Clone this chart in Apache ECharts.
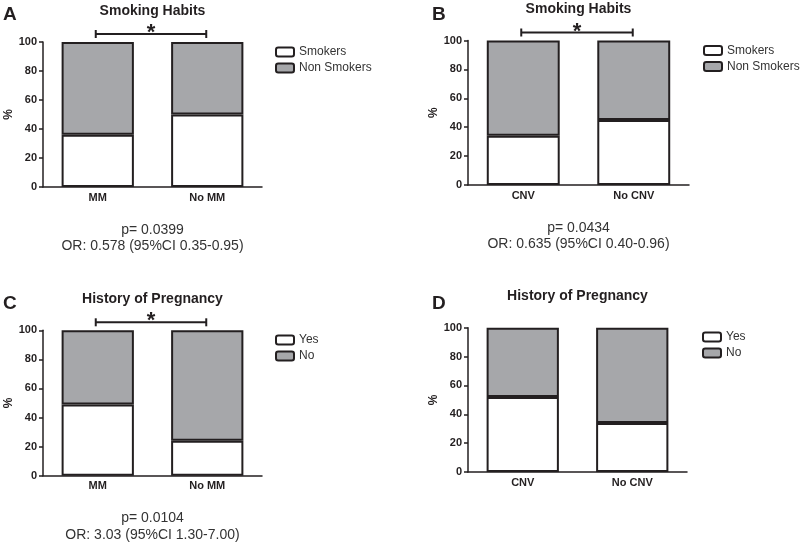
<!DOCTYPE html>
<html>
<head>
<meta charset="utf-8">
<script src="https://cdn.jsdelivr.net/npm/echarts@6/dist/echarts.min.js"></script>
<style>html,body{margin:0;padding:0;background:#fff}#c{width:800px;height:546px}</style>
</head>
<body>
<div id="c"></div>
<script>
// ---- data ----
const catsMM = ['MM', 'No MM'];
const catsCNV = ['CNV', 'No CNV'];
const yTicks = [0, 20, 40, 60, 80, 100];

const smokersMM = [36, 50];
const nonSmokersMM = [64, 50];
const smokersCNV = [34, 45];
const nonSmokersCNV = [66, 55];
const pregYesMM = [49, 24];
const pregNoMM = [51, 76];
const pregYesCNV = [52, 34];
const pregNoCNV = [48, 66];

const panelLetters = ['A', 'B', 'C', 'D'];
const panelTitles = ['Smoking Habits', 'Smoking Habits', 'History of Pregnancy', 'History of Pregnancy'];
const statTexts = [
  'p= 0.0399\nOR: 0.578 (95%CI 0.35-0.95)',
  'p= 0.0434\nOR: 0.635 (95%CI 0.40-0.96)',
  'p= 0.0104\nOR: 3.03 (95%CI 1.30-7.00)',
  ''
];
const significant = [true, true, true, false];

// ---- layout ----
const FONT = 'Liberation Sans, Arial, sans-serif';
const DARK = '#231f20';
const GRAY = '#a6a7aa';
const grids = [
  {left: 43, top: 42, width: 219, height: 145},
  {left: 468, top: 40.5, width: 221, height: 144.5},
  {left: 43, top: 330.3, width: 219, height: 145.4},
  {left: 468, top: 327.7, width: 219, height: 144.3}
];
const legendPos = [
  {left: 275, top: 44},
  {left: 703, top: 42.5},
  {left: 275, top: 332},
  {left: 702, top: 329}
];
const titleTops = [4, 2, 292, 289];
const letterPos = [{left: 3, top: 5}, {left: 432, top: 5}, {left: 3, top: 294}, {left: 432, top: 294}];

const panelCats = [catsMM, catsCNV, catsMM, catsCNV];
const panelSeries = [
  [['Smokers', smokersMM], ['Non Smokers', nonSmokersMM]],
  [['Smokers', smokersCNV], ['Non Smokers', nonSmokersCNV]],
  [['Yes', pregYesMM], ['No', pregNoMM]],
  [['Yes', pregYesCNV], ['No', pregNoCNV]]
];

const chart = echarts.init(document.getElementById('c'), null, {renderer: 'canvas'});

const xAxes = [], yAxes = [], series = [], legends = [], titles = [];
grids.forEach((g, i) => {
  const cx = g.left + g.width / 2;
  xAxes.push({
    type: 'category', gridIndex: i, data: panelCats[i],
    axisLine: {lineStyle: {color: DARK, width: 1.5}},
    axisTick: {alignWithLabel: true, length: 4, lineStyle: {color: DARK, width: 1.5}},
    axisLabel: {color: DARK, fontFamily: FONT, fontWeight: 'bold', fontSize: 11, margin: 5}
  });
  yAxes.push({
    type: 'value', gridIndex: i, min: yTicks[0], max: yTicks[yTicks.length - 1],
    interval: yTicks[1] - yTicks[0],
    name: '%', nameLocation: 'middle', nameGap: 26, nameRotate: 90,
    nameTextStyle: {color: DARK, fontFamily: FONT, fontWeight: 'bold', fontSize: 12},
    axisLine: {show: true, lineStyle: {color: DARK, width: 1.5}},
    axisTick: {show: true, length: 4, lineStyle: {color: DARK, width: 1.5}},
    axisLabel: {color: DARK, fontFamily: FONT, fontWeight: 'bold', fontSize: 11, margin: 6},
    splitLine: {show: false}
  });
  panelSeries[i].forEach((s, k) => {
    series.push({
      type: 'bar', name: s[0], xAxisIndex: i, yAxisIndex: i, stack: 'p' + i,
      data: s[1], barWidth: '66%', animation: false,
      itemStyle: {color: k === 0 ? '#ffffff' : GRAY, borderColor: DARK, borderWidth: 2},
      emphasis: {disabled: true}
    });
  });
  legends.push({
    left: legendPos[i].left, top: legendPos[i].top, orient: 'vertical', padding: 0,
    itemWidth: 18, itemHeight: 9, itemGap: 0,
    data: panelSeries[i].map(s => s[0]),
    itemStyle: {borderColor: DARK, borderWidth: 2},
    textStyle: {color: '#333', fontFamily: FONT, fontSize: 12, lineHeight: 16}
  });
  titles.push({
    text: panelTitles[i], left: cx, top: titleTops[i], textAlign: 'center', padding: 0,
    textStyle: {color: DARK, fontFamily: FONT, fontWeight: 'bold', fontSize: 14}
  });
  titles.push({
    text: panelLetters[i], left: letterPos[i].left, top: letterPos[i].top, padding: 0,
    textStyle: {color: DARK, fontFamily: FONT, fontWeight: 'bold', fontSize: 19}
  });
  if (statTexts[i]) {
    titles.push({
      text: statTexts[i], left: cx, top: g.top + g.height + 34.5, textAlign: 'center', padding: 0,
      textStyle: {color: '#333', fontFamily: FONT, fontWeight: 'normal', fontSize: 14, lineHeight: 16.7}
    });
  }
});

chart.setOption({
  backgroundColor: '#fff',
  animation: false,
  grid: grids,
  xAxis: xAxes,
  yAxis: yAxes,
  series: series,
  legend: legends,
  title: titles
});

// significance brackets placed through the axes' own scales
const graphics = [];
grids.forEach((g, i) => {
  if (!significant[i]) return;
  const yTop = yTicks[yTicks.length - 1];
  const p1 = chart.convertToPixel({gridIndex: i}, [panelCats[i][0], yTop]);
  const p2 = chart.convertToPixel({gridIndex: i}, [panelCats[i][1], yTop]);
  const y = p1[1] - 8;
  const x1 = p1[0] - 2, x2 = p2[0] - 1;
  const ls = {stroke: DARK, lineWidth: 2};
  graphics.push({type: 'line', shape: {x1: x1, y1: y, x2: x2, y2: y}, style: ls, silent: true});
  graphics.push({type: 'line', shape: {x1: x1, y1: y - 4, x2: x1, y2: y + 4}, style: ls, silent: true});
  graphics.push({type: 'line', shape: {x1: x2, y1: y - 4, x2: x2, y2: y + 4}, style: ls, silent: true});
  graphics.push({type: 'text', x: (x1 + x2) / 2, y: y - 1, silent: true,
    style: {text: '*', fill: DARK, font: 'bold 22px ' + FONT, textAlign: 'center', textVerticalAlign: 'middle'}});
});
chart.setOption({graphic: graphics});
</script>
</body>
</html>
